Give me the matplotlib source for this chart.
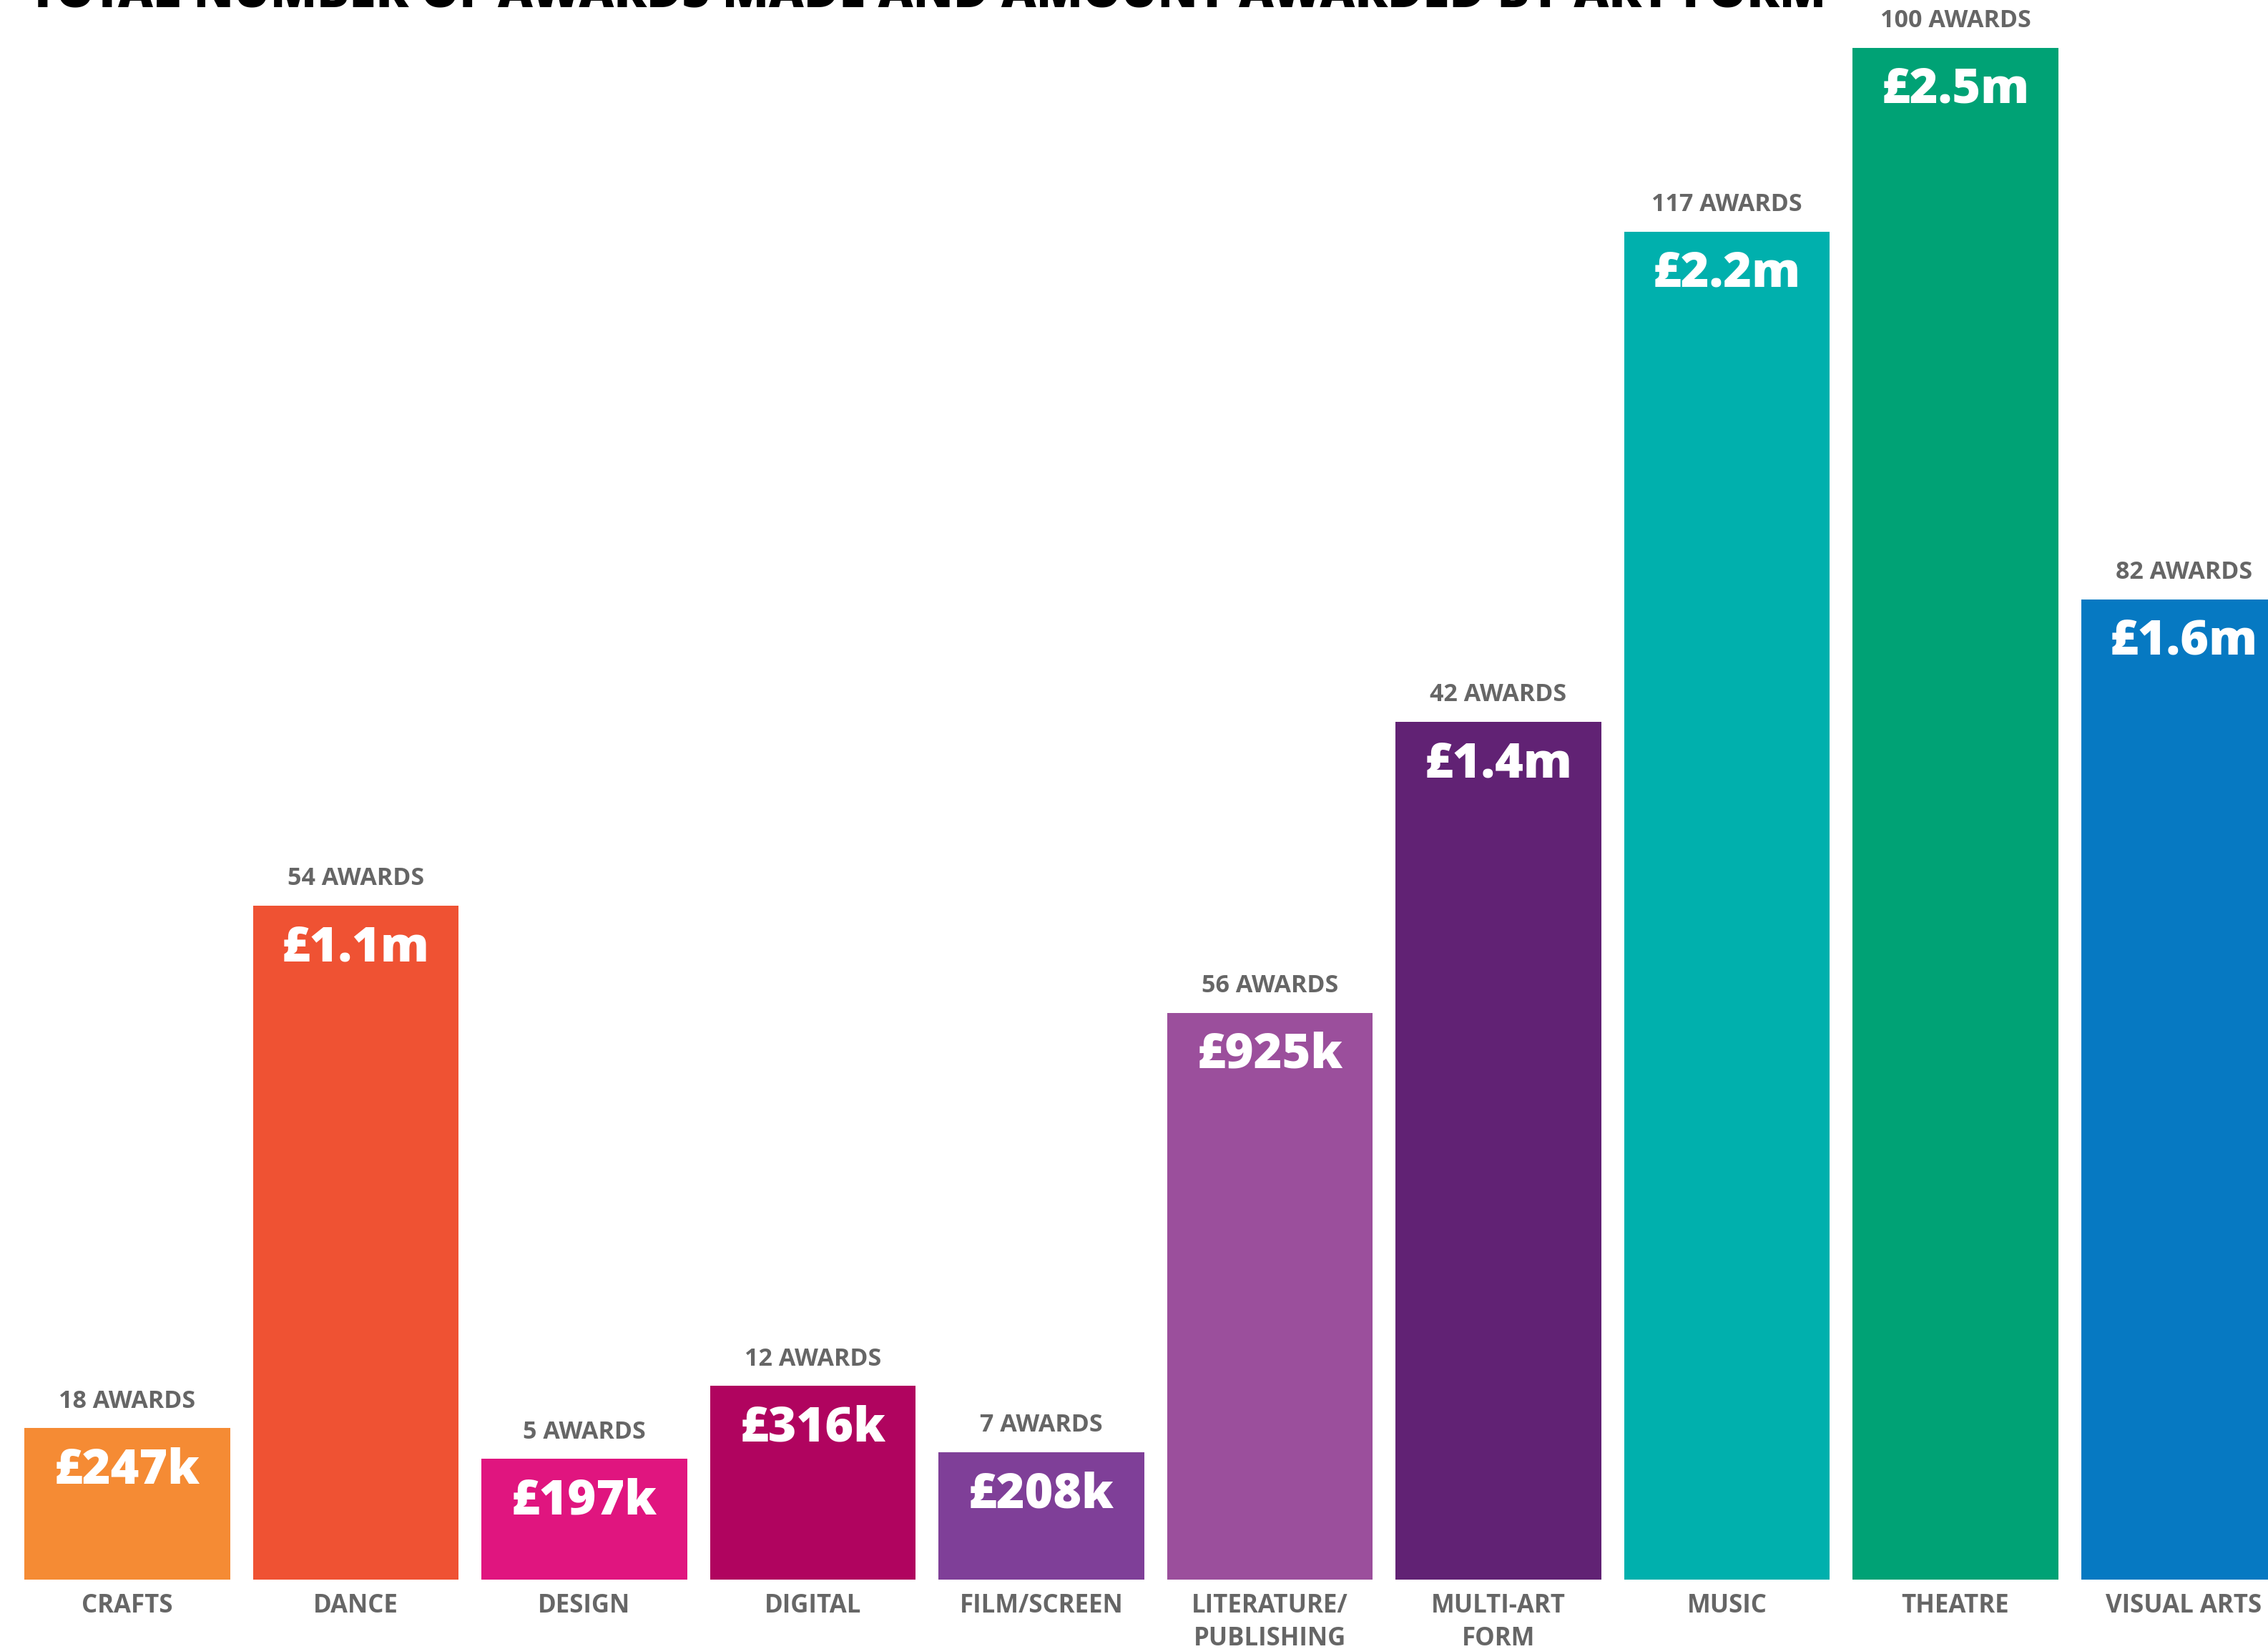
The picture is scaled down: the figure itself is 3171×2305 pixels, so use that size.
import matplotlib
matplotlib.use("Agg")
import matplotlib.pyplot as plt

categories = ["CRAFTS", "DANCE", "DESIGN", "DIGITAL", "FILM/SCREEN",
              "LITERATURE/\nPUBLISHING", "MULTI-ART\nFORM", "MUSIC", "THEATRE", "VISUAL ARTS"]
amounts_k = [247, 1100, 197, 316, 208, 925, 1400, 2200, 2500, 1600]
amount_labels = ["£247k", "£1.1m", "£197k", "£316k", "£208k", "£925k", "£1.4m", "£2.2m", "£2.5m", "£1.6m"]
awards = [18, 54, 5, 12, 7, 56, 42, 117, 100, 82]
colors = ["#F58B34", "#EF5233", "#E0157F", "#B0045F", "#7F3F98",
          "#9B4F9C", "#612274", "#00B0AD", "#00A275", "#0679C2"]
title = "TOTAL NUMBER OF AWARDS MADE AND AMOUNT AWARDED BY ART FORM"

W, H, DPI = 3171, 2305, 100
fig = plt.figure(figsize=(W / DPI, H / DPI), dpi=DPI)
fig.patch.set_facecolor("white")

base_px = 2208
ax = fig.add_axes([0, (H - base_px) / H, 1, base_px / H])
ax.set_xlim(-0.557, 9.368)
ax.set_ylim(0, base_px / 0.8565)
ax.axis("off")

x = list(range(len(categories)))
bars = ax.bar(x, amounts_k, width=0.9, color=colors, linewidth=0)

gray = "#666666"
fam = ["Open Sans", "DejaVu Sans"]
for xi, h, lab, n, cat in zip(x, amounts_k, amount_labels, awards, categories):
    ax.annotate(f"{n} AWARDS", (xi, h), xytext=(0, 27), textcoords="offset points",
                ha="center", va="center", fontsize=24.5, fontweight="bold",
                color=gray, family=fam, annotation_clip=False)
    ax.annotate(lab, (xi, h), xytext=(0, -43), textcoords="offset points",
                ha="center", va="center", fontsize=49, fontweight="heavy",
                color="white", family=fam, annotation_clip=False)
    ax.annotate(cat, (xi, 0), xytext=(0, -14), textcoords="offset points",
                ha="center", va="top", fontsize=25, fontweight="bold",
                color=gray, family=fam, linespacing=1.35, annotation_clip=False)

fig.text(40 / W, 1 - 10 / H, title, ha="left", va="baseline", fontsize=48.5,
         fontweight="heavy", color="black", family=fam)

fig.savefig("out.png", dpi=DPI, facecolor="white")
